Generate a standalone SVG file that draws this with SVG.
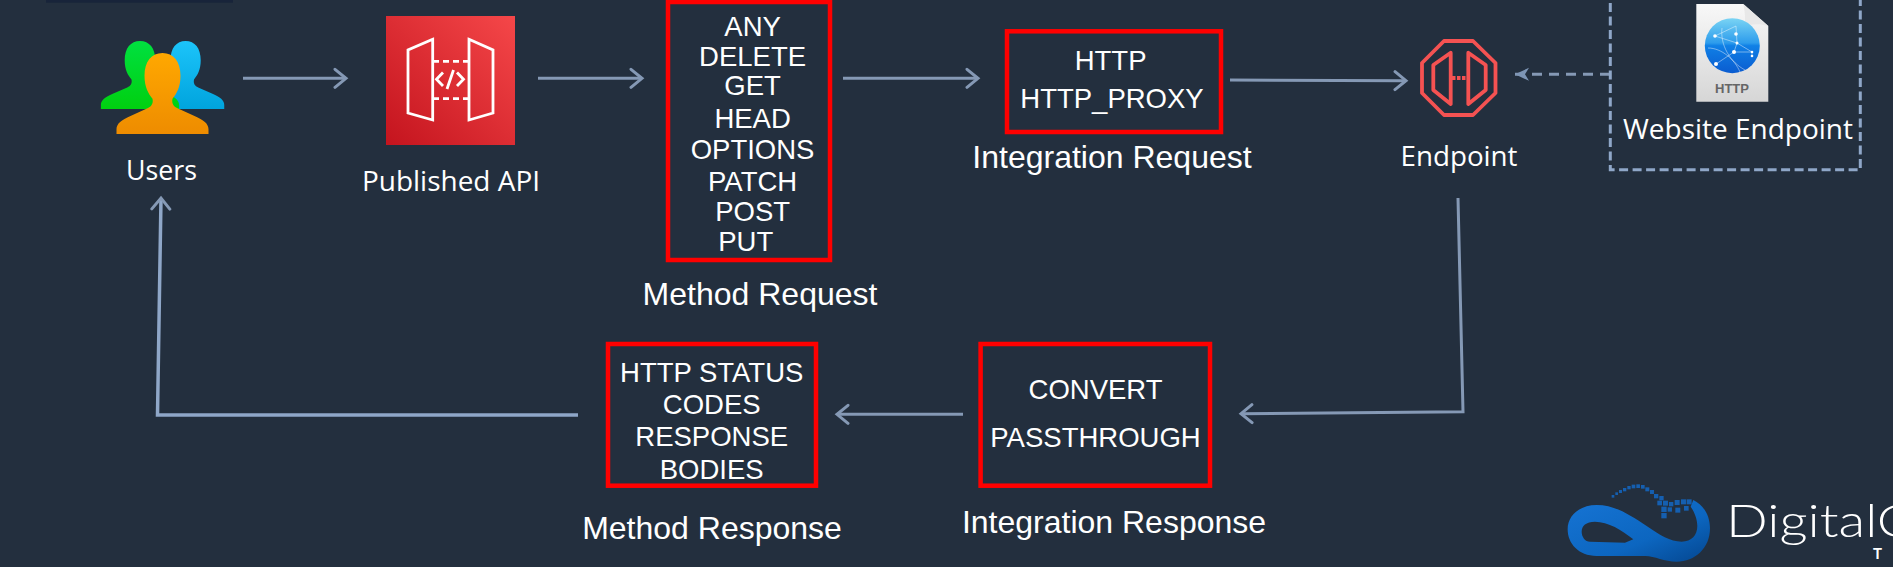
<svg xmlns="http://www.w3.org/2000/svg" width="1893" height="567" viewBox="0 0 1893 567">
<style>
.lbl{font-family:"Open Sans","Noto Sans",sans-serif;font-size:28px;fill:#fff;text-anchor:middle}
.ar{font-family:"Liberation Sans",Arial,sans-serif;font-size:27.500px;fill:#fff;text-anchor:middle}
.cap{font-family:"Liberation Sans",Arial,sans-serif;font-size:32px;fill:#fff;text-anchor:middle}
.box{fill:none;stroke:#ff0000;stroke-width:4.500}
.c{fill:none;stroke:#8599b5;stroke-width:3}
.long{fill:none;stroke:#8fa7c8;stroke-width:3.500}
.ep{fill:none;stroke:#f55252;stroke-width:3.800;stroke-linejoin:round}
.sq{fill:#155fb0}
</style>
<defs>
<marker id="a" markerUnits="userSpaceOnUse" markerWidth="18" markerHeight="24" refX="13" refY="12" orient="auto"><path d="M2 3 L13 12 L2 21" fill="none" stroke="#8599b5" stroke-width="3" stroke-linecap="round"/></marker>
<marker id="s" markerUnits="userSpaceOnUse" markerWidth="18" markerHeight="16" refX="15" refY="8" orient="auto"><path d="M15 8 L1 1.500 L5 8 L1 14.500Z" fill="#7d95b5"/></marker>
<linearGradient id="red" x1="0" y1="1" x2="1" y2="0"><stop offset="0" stop-color="#c4141e"/><stop offset="1" stop-color="#f54749"/></linearGradient>
<linearGradient id="g1" x1="0" y1="0" x2="0" y2="1"><stop offset="0" stop-color="#00e040"/><stop offset="1" stop-color="#00d010"/></linearGradient>
<linearGradient id="g2" x1="0" y1="0" x2="0" y2="1"><stop offset="0" stop-color="#1cc4fa"/><stop offset="1" stop-color="#00a4dd"/></linearGradient>
<linearGradient id="g3" x1="0" y1="0" x2="0" y2="1"><stop offset="0" stop-color="#ffa800"/><stop offset="1" stop-color="#ee8c00"/></linearGradient>
<linearGradient id="gl" x1="0" y1="0" x2="0" y2="1"><stop offset="0" stop-color="#7ad4f4"/><stop offset=".45" stop-color="#2d9cec"/><stop offset=".5" stop-color="#1080e6"/><stop offset="1" stop-color="#0a5cd0"/></linearGradient>
<linearGradient id="pg" x1="0" y1="0" x2="0" y2="1"><stop offset="0" stop-color="#f8f8f8"/><stop offset="1" stop-color="#d6d6d6"/></linearGradient>
<linearGradient id="lg" x1="0" y1="0" x2="1" y2="1"><stop offset="0" stop-color="#1674d4"/><stop offset=".6" stop-color="#0c66c0"/><stop offset="1" stop-color="#04468f"/></linearGradient>
<path id="person" d="M0 0 C-11 0 -18 9 -18 24 C-18 36 -14 43 -10 48 C-9 53 -11 56 -15 58 L-32 66 C-41 70 -46 74 -46 80 V85 H46 V80 C46 74 41 70 32 66 L15 58 C11 56 9 53 10 48 C14 43 18 36 18 24 C18 9 11 0 0 0Z"/>
</defs>
<rect width="1893" height="567" fill="#232f3e"/>
<rect x="46" y="0" width="187" height="2.700" fill="#18243a"/>
<g id="connectors">
<path class="c" d="M243 78.300H346" marker-end="url(#a)"/>
<path class="c" d="M538 78.300H642" marker-end="url(#a)"/>
<path class="c" d="M843 78.300H978" marker-end="url(#a)"/>
<path class="c" d="M1230 80 L1406 80.700" marker-end="url(#a)"/>
<path class="c" d="M1610 74.300 H1515" stroke-dasharray="10 7" marker-end="url(#s)"/>
<path class="c" d="M1458 198 L1463 411.700 L1241 413.700" marker-end="url(#a)"/>
<path class="c" d="M963 414.300 H837" marker-end="url(#a)"/>
<path class="long" d="M578 415 H157.500 L161 198" marker-end="url(#a)"/>
</g>
<g id="users">
<use href="#person" transform="translate(185.600 41) scale(.84 .8)" fill="url(#g2)"/>
<use href="#person" transform="translate(140 41) scale(.85 .8)" fill="url(#g1)"/>
<use href="#person" transform="translate(162.500 53) scale(1 .953)" fill="url(#g3)"/>
<text class="lbl" x="161.500" y="180" textLength="71" lengthAdjust="spacingAndGlyphs">Users</text>
</g>
<g id="published-api">
<rect x="386" y="16" width="129" height="129" fill="url(#red)"/>
<g fill="none" stroke="#fff" stroke-width="2.800">
<path d="M432.700 39.300 L408 50 V113 L432.700 120Z M469 39.300 L493 50 V113 L469 120Z"/>
<path d="M433 61.300H469 M433 98.700H469" stroke-dasharray="6 4"/>
<path d="M443 72.500 L436.500 79.300 L443 86 M457 72.500 L463.500 79.300 L457 86 M453.500 70 L447 89"/>
</g>
<text class="lbl" x="451" y="190.700" textLength="178" lengthAdjust="spacingAndGlyphs">Published API</text>
</g>
<g id="method-request">
<rect class="box" x="668" y="2" width="162" height="258"/>
<text class="ar" x="752.600" y="36">ANY</text>
<text class="ar" x="752.600" y="66">DELETE</text>
<text class="ar" x="752.600" y="95">GET</text>
<text class="ar" x="752.600" y="128">HEAD</text>
<text class="ar" x="752.600" y="159">OPTIONS</text>
<text class="ar" x="752.600" y="191">PATCH</text>
<text class="ar" x="752.600" y="221">POST</text>
<text class="ar" x="745.700" y="251">PUT</text>
<text class="cap" x="760" y="305">Method Request</text>
</g>
<g id="integration-request">
<rect class="box" x="1007" y="31.300" width="214" height="100.700"/>
<text class="ar" x="1110.600" y="70">HTTP</text>
<text class="ar" x="1112" y="108.300">HTTP_PROXY</text>
<text class="cap" x="1112" y="168">Integration Request</text>
</g>
<g id="endpoint">
<path class="ep" d="M1444 41 H1473 L1495.500 63 V93 L1473 115 H1444 L1422 93 V63Z"/>
<path class="ep" d="M1450.700 52.700 L1433.300 65 V90 L1450.700 104Z M1468.300 52.700 L1485.700 65 V90 L1468.300 104Z"/>
<path class="ep" d="M1452 78H1466" stroke-dasharray="3.500 1.500"/>
<text class="lbl" x="1459" y="166" textLength="117" lengthAdjust="spacingAndGlyphs">Endpoint</text>
</g>
<g id="website-endpoint">
<path d="M1610.300 3 V169.700 H1860.300 V0" fill="none" stroke="#8fa7c8" stroke-width="3" stroke-dasharray="9 4.500"/>
<path d="M1696.300 4 H1743.300 L1768.300 26 V101.700 H1696.300Z" fill="url(#pg)"/>
<path d="M1743.300 4 L1768.300 26 C1758 23 1748 24 1744 28 C1746 20 1745 12 1743.300 4Z" fill="#e8e8e8"/>
<circle cx="1732.300" cy="45.700" r="27.500" fill="url(#gl)"/>
<g fill="none" stroke="#fff" stroke-opacity=".55" stroke-width=".8">
<path d="M1715 36 L1737 43 L1734 52 L1716 64 M1737 43 L1736 26 L1715 36 M1734 52 L1752 52 L1752 56 M1737 43 L1752 52 M1722 28 C1720 45 1730 62 1745 70 M1708 48 C1722 48 1735 60 1740 72"/>
</g>
<g fill="#fff"><circle cx="1715" cy="36" r="1.800"/><circle cx="1737" cy="43" r="1.500"/><circle cx="1734" cy="52" r="2"/><circle cx="1716" cy="64" r="2"/><circle cx="1736" cy="34" r="1.800"/><circle cx="1752" cy="52" r="1.300"/><circle cx="1752" cy="56" r="1.300"/></g>
<text x="1732" y="92.700" text-anchor="middle" font-family="'Liberation Sans',Arial,sans-serif" font-weight="700" font-size="13" fill="#666">HTTP</text>
<text class="lbl" x="1738" y="139" textLength="230" lengthAdjust="spacingAndGlyphs">Website Endpoint</text>
</g>
<g id="method-response">
<rect class="box" x="608" y="344" width="208" height="141.700"/>
<text class="ar" x="711.700" y="381.700">HTTP STATUS</text>
<text class="ar" x="711.700" y="414.300">CODES</text>
<text class="ar" x="711.700" y="446">RESPONSE</text>
<text class="ar" x="711.700" y="479">BODIES</text>
<text class="cap" x="712" y="539">Method Response</text>
</g>
<g id="integration-response">
<rect class="box" x="980.600" y="344" width="229.400" height="141.700"/>
<text class="ar" x="1095.500" y="398.700">CONVERT</text>
<text class="ar" x="1095.500" y="446.700">PASSTHROUGH</text>
<text class="cap" x="1114" y="533.300">Integration Response</text>
</g>
<g id="logo">
<g transform="translate(1500 440) scale(.3333)">
<path fill="url(#lg)" fill-rule="evenodd" d="M430 348 L290 348 C235 348 203 310 203 268 C203 225 240 195 290 195 C345 195 390 225 440 258 C480 285 510 305 545 305 C575 305 592 285 592 258 C592 235 582 215 572 200 L580 180 C610 195 630 225 630 265 C630 325 585 365 530 365 C490 365 460 345 430 348Z M245 275 C245 258 258 245 285 245 C325 245 365 270 400 298 L375 308 L270 305 C255 305 245 290 245 275Z"/>
<g class="sq">
<rect x="335" y="165" width="8" height="8"/><rect x="346" y="157" width="8" height="8"/><rect x="357" y="150" width="9" height="9"/><rect x="369" y="144" width="10" height="10"/><rect x="382" y="138" width="10" height="10"/><rect x="395" y="134" width="11" height="11"/><rect x="409" y="133" width="11" height="11"/><rect x="423" y="135" width="11" height="11"/><rect x="436" y="142" width="12" height="12"/><rect x="450" y="150" width="12" height="12"/><rect x="462" y="162" width="13" height="13"/><rect x="478" y="168" width="13" height="13"/><rect x="472" y="182" width="14" height="14"/><rect x="489" y="182" width="15" height="15"/><rect x="507" y="186" width="13" height="13"/><rect x="524" y="180" width="15" height="15"/><rect x="543" y="178" width="15" height="15"/><rect x="560" y="178" width="15" height="15"/><rect x="484" y="200" width="16" height="16"/><rect x="503" y="202" width="13" height="13"/><rect x="526" y="203" width="15" height="15"/><rect x="484" y="219" width="16" height="16"/><rect x="552" y="198" width="14" height="14"/>
</g>
</g>
<text x="1726" y="536.700" font-family="Lato,'Open Sans',sans-serif" font-weight="300" font-size="46" fill="#fff" textLength="188" lengthAdjust="spacingAndGlyphs">DigitalC</text>
<text x="1873" y="559" font-family="Lato,'Open Sans',sans-serif" font-weight="700" font-size="15" letter-spacing="11" fill="#fff">TI</text>
</g>
</svg>
